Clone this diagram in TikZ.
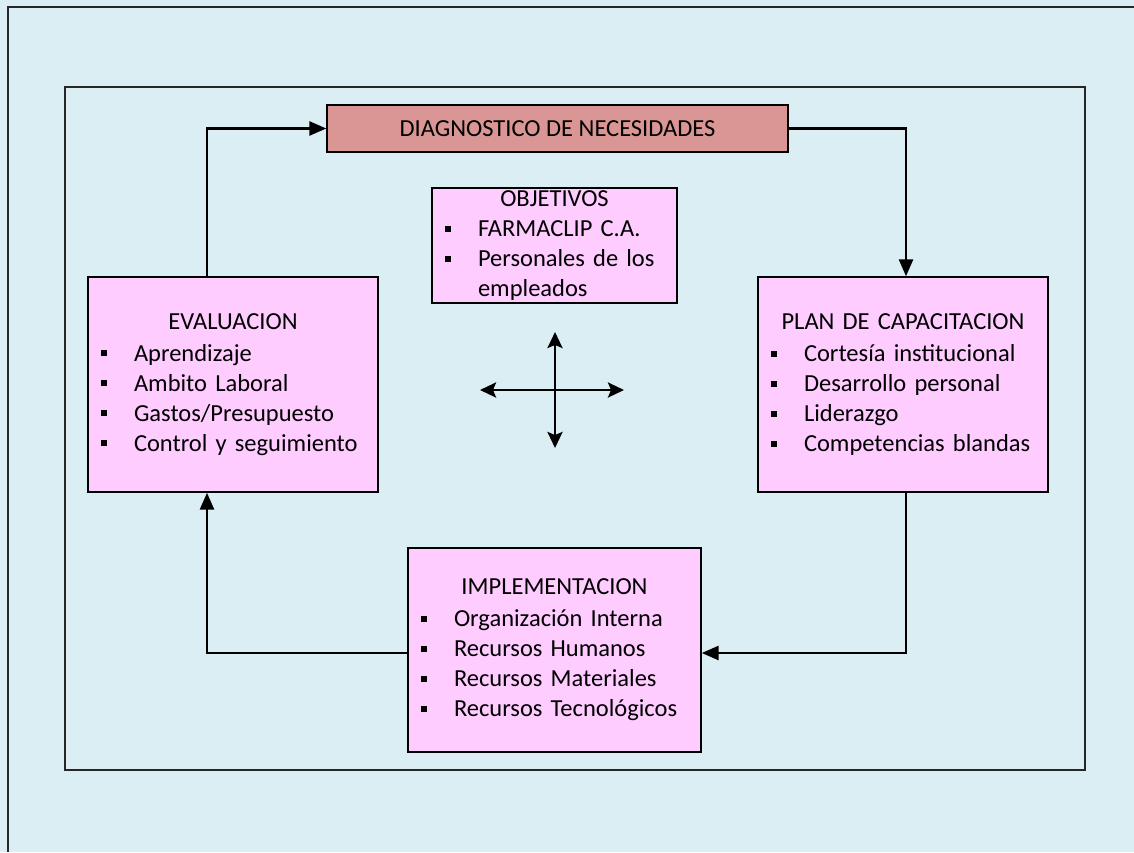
\documentclass[tikz,border=0pt]{standalone}
\usepackage{fontspec}
\setmainfont{Carlito}
\usepackage{xcolor}
\usetikzlibrary{arrows.meta,positioning}

\definecolor{fondo}{HTML}{DBEEF4}
\definecolor{rosa}{HTML}{FFCCFF}
\definecolor{salmon}{HTML}{D99694}

% bullet item and continuation line inside a box
\newcommand{\itm}[1]{\makebox[\hsize][l]{\rule[0.2em]{6pt}{6pt}\hspace{27pt}#1}}
\newcommand{\cont}[1]{\makebox[\hsize][l]{\hspace{33pt}#1}}

\begin{document}
\begin{tikzpicture}[x=1pt,y=-1pt,
box/.style={draw,line width=1.4pt,fill=rosa,inner xsep=13pt,inner ysep=0pt,align=center,font=\fontsize{24.5}{30}\selectfont},
dgbox/.style={draw,line width=1.4pt,fill=salmon,font=\fontsize{24.5}{30}\selectfont},
conn/.style={line width=2.7pt,-{Triangle[length=17pt,width=14pt]}},
flecha/.style={line width=2.7pt,{Stealth[length=16pt,width=15pt,inset=3pt]}-{Stealth[length=16pt,width=15pt,inset=3pt]}}]

\useasboundingbox (0,0) rectangle (1134,852);
\fill[fondo] (0,0) rectangle (1134,852);
\draw[line width=1.8pt,black!85] (1134,7) -- (8,7) -- (8,852);
\draw[line width=1.8pt,black!85] (65,87) rectangle (1085,770);

\node[dgbox,minimum width=461pt,minimum height=47pt] (dg) at (557.5,128.5) {DIAGNOSTICO DE NECESIDADES};

\node[box,text width=219pt,minimum height=115pt] (obj) at (554.5,245.5)
{OBJETIVOS\\ \itm{FARMACLIP C.A.}\\ \itm{Personales de los}\\ \cont{empleados}};

\node[box,text width=264pt,minimum height=215pt] (ev) at (233,384.5)
{EVALUACION\\[2pt] \itm{Aprendizaje}\\ \itm{Ambito Laboral}\\ \itm{Gastos/Presupuesto}\\ \itm{Control y seguimiento}};

\node[box,text width=264pt,minimum height=215pt] (pl) at (903,384.5)
{PLAN DE CAPACITACION\\[2pt] \itm{Cortesía institucional}\\ \itm{Desarrollo personal}\\ \itm{Liderazgo}\\ \itm{Competencias blandas}};

\node[box,text width=267pt,minimum height=204pt] (im) at (554.5,650)
{IMPLEMENTACION\\[2pt] \itm{Organización Interna}\\ \itm{Recursos Humanos}\\ \itm{Recursos Materiales}\\ \itm{Recursos Tecnológicos}};

\draw[conn] ([xshift=-26pt]ev.north) |- (dg.west);
\draw[conn] (dg.east) -| ([xshift=3pt]pl.north);
\draw[conn] ([xshift=3pt]pl.south) |- ([yshift=-3pt]im.east);
\draw[conn] ([yshift=-3pt]im.west) -| ([xshift=-26pt]ev.south);

\coordinate (c) at (555,390);
\coordinate (cl) at (480,390);
\coordinate (cr) at (624,390);
\coordinate (ct) at (555,332);
\coordinate (cb) at (555,448);
\draw[flecha] (cl) -- (cr);
\draw[flecha] (ct) -- (cb);
\end{tikzpicture}
\end{document}
